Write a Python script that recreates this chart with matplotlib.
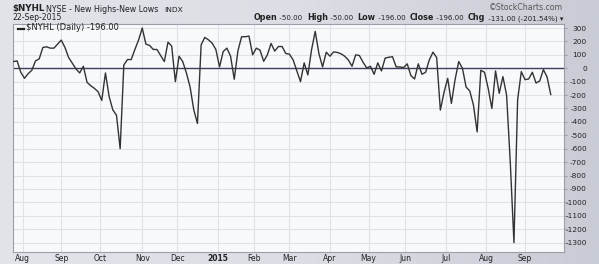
import matplotlib
matplotlib.use("Agg")
import matplotlib.pyplot as plt
import numpy as np
import pandas as pd

plt.rcParams["axes.unicode_minus"] = False
plt.rcParams["font.family"] = ["DejaVu Sans"]

# NYSE holidays inside the range (the chart uses trading-day spacing)
holidays = ["2014-09-01", "2014-11-27", "2014-12-25", "2015-01-01", "2015-01-19",
            "2015-02-16", "2015-04-03", "2015-05-25", "2015-07-03", "2015-09-07"]
start_day = "2014-07-25"
end_day = "2015-09-22"

# $NYHL, every second trading day, ending 22-Sep-2015
nyhl = [50, 55, -30, -75, -40, -15, 55, 70, 155, 160,
        150, 150, 180, 210, 155, 80, 37, -5, -35, 15,
        -105, -130, -150, -175, -240, -35, -210, -310, -350, -600,
        25, 65, 65, 140, 210, 300, 180, 170, 140, 140,
        95, 50, 195, 165, -100, 90, 50, -35, -140, -310,
        -412, 175, 230, 212, 187, 140, 10, 125, 150, 90,
        -82, 130, 235, 235, 240, 100, 150, 135, 52, 100,
        185, 128, 162, 162, 110, 105, 62, -20, -100, 40,
        -50, 137, 275, 110, 10, 120, 90, 122, 118, 108,
        90, 62, 15, 100, 95, 45, 2, 15, -45, 40,
        -20, 76, 82, 86, 10, 10, 5, 33, -55, -80,
        33, -45, -30, 62, 120, 80, -312, -180, -75, -262,
        -85, 50, 0, -140, -170, -275, -475, -15, -30, -150,
        -300, -20, -187, -62, -200, -700, -1300, -235, -25, -85,
        -80, -30, -110, -95, -10, -65, -196]

month_labels = ["Aug", "Sep", "Oct", "Nov", "Dec", "2015", "Feb", "Mar",
                "Apr", "May", "Jun", "Jul", "Aug", "Sep"]
y_ticks = list(range(300, -1400, -100))

days = pd.bdate_range(start_day, end_day, freq="C", holidays=holidays)
pos = np.arange(len(days))[::-2][::-1]
nyhl = np.array(nyhl)

# first trading day of every month
month_pos = [i for i in range(1, len(days)) if days[i].month != days[i - 1].month]

W, H = 599, 264
fig = plt.figure(figsize=(W / 100, H / 100), dpi=100)

# background gradient
bg = fig.add_axes([0, 0, 1, 1], zorder=-5)
grad = np.linspace(0, 1, 256)[None, :]
bg.imshow(grad, aspect="auto", extent=[0, 1, 0, 1],
          cmap=matplotlib.colors.LinearSegmentedColormap.from_list(
              "bg", ["#e2e4ea", "#dcdee5", "#c9ccd5"]))
bg.axis("off")

ax = fig.add_axes([12.7 / W, 12 / H, (564 - 12.7) / W, (252 - 24) / H])
ax.set_facecolor("#f8f9fb")
for s in ax.spines.values():
    s.set_color("#9a9ea8")
    s.set_linewidth(0.8)

ax.plot(pos, nyhl, color="#333333", lw=1.0, zorder=3)
ax.axhline(0, color="#3d3f5e", lw=1.0, zorder=2)

ax.set_xlim(-0.4, 299.2)
ax.set_ylim(-1370, 330)

ax.set_yticks(y_ticks)
ax.set_yticklabels([str(v) for v in y_ticks])
ax.yaxis.tick_right()
ax.tick_params(axis="y", length=2, color="#9a9ea8", labelsize=5.3,
               labelcolor="#222222", pad=14.5)
for lab in ax.get_yticklabels():
    lab.set_horizontalalignment("right")

ax.set_xticks(month_pos)
ax.set_xticklabels(month_labels)
ax.tick_params(axis="x", length=0, labelsize=5.5, labelcolor="#222222", pad=1.5)
ax.get_xticklabels()[5].set_fontweight("bold")

ax.grid(True, color="#e0e2e8", lw=0.8, zorder=0)
ax.set_axisbelow(True)

# legend line inside the panel
ax.plot([2.6, 6.0], [290, 290], color="#222222", lw=1.6, zorder=4)
ax.text(6.7, 282, "$NYHL (Daily) -196.00", fontsize=6.0, color="#222222",
        va="baseline", ha="left", zorder=4)


def fx(x):
    return x / W


def fy(y):
    return 1 - y / H


fig.text(fx(12.7), fy(11.5), "$NYHL", fontsize=6.3, fontweight="bold",
         color="#222222", va="baseline")
fig.text(fx(45.5), fy(11.5), "NYSE - New Highs-New Lows", fontsize=5.7,
         color="#222222", va="baseline")
fig.text(fx(164), fy(11.5), "INDX", fontsize=5.4, color="#222222", va="baseline")
fig.text(fx(12.7), fy(20), "22-Sep-2015", fontsize=5.6, color="#222222",
         va="baseline")
fig.text(fx(563), fy(10), "\u00a9StockCharts.com", fontsize=5.6,
         color="#555555", va="baseline", ha="right")

# OHLC line, laid out left to right, then moved to end at the panel edge
parts = [("Open", True), (" -50.00  ", False), ("High", True), (" -50.00  ", False),
         ("Low", True), (" -196.00  ", False), ("Close", True), (" -196.00  ", False),
         ("Chg", True), (" -131.00 (-201.54%) \u25be", False)]
fig.canvas.draw()
r = fig.canvas.get_renderer()
items = []
x = 0
for txt, bold in parts:
    t = fig.text(0, fy(20), txt, fontsize=5.75 if bold else 5.1,
                 fontweight="bold" if bold else "normal", color="#222222",
                 va="baseline")
    items.append((t, x))
    x += t.get_window_extent(renderer=r).width
x_start = 563 - x
for t, off in items:
    t.set_x(fx(x_start + off))

fig.savefig("out.png", dpi=100)
